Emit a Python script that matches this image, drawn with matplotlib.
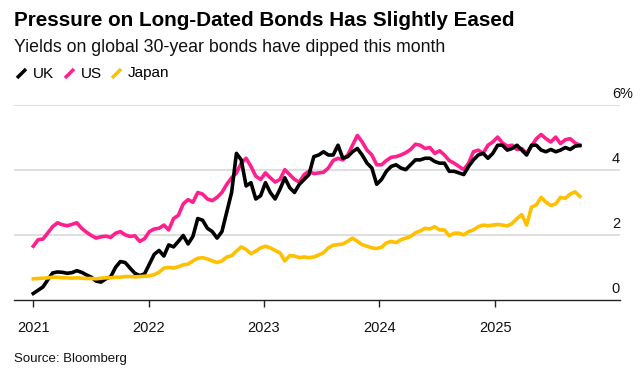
import matplotlib
matplotlib.use('Agg')
import matplotlib.pyplot as plt
from matplotlib.lines import Line2D
import pandas as pd

plt.rcParams['font.family'] = ['Liberation Sans', 'DejaVu Sans']

# === data: 30-year yields (%), roughly every half month, Jan 2021 -> late Sep 2025 ===
uk = [0.2, 0.3, 0.4, 0.62, 0.83, 0.86, 0.85, 0.82, 0.84, 0.9, 0.85, 0.77,
      0.7, 0.58, 0.55, 0.65, 0.71, 1.0, 1.18, 1.15, 0.98, 0.82, 0.75, 0.8,
      1.1, 1.4, 1.52, 1.35, 1.69, 1.63, 1.8, 1.98, 1.72, 1.95, 2.5, 2.45,
      2.2, 2.1, 1.9, 2.1, 2.7, 3.3, 4.5, 4.3, 3.5, 3.6, 3.1, 3.2,
      3.6, 3.3, 3.1, 3.4, 3.75, 3.45, 3.3, 3.55, 3.7, 3.85, 4.4, 4.45,
      4.55, 4.45, 4.45, 4.75, 4.35, 4.4, 4.55, 4.65, 4.45, 4.2, 4.05, 3.55,
      3.7, 3.95, 4.1, 4.15, 4.05, 4.0, 4.15, 4.3, 4.3, 4.35, 4.35, 4.25,
      4.2, 4.2, 3.95, 3.95, 3.9, 3.85, 4.1, 4.3, 4.45, 4.5, 4.35, 4.5,
      4.75, 4.75, 4.6, 4.65, 4.75, 4.6, 4.45, 4.75, 4.75, 4.6, 4.55, 4.62,
      4.55, 4.6, 4.68, 4.62, 4.72, 4.74]

us = [1.65, 1.85, 1.87, 2.06, 2.25, 2.37, 2.31, 2.28, 2.32, 2.37, 2.2, 2.08,
      1.98, 1.9, 1.94, 1.96, 1.92, 2.05, 2.1, 2.0, 1.95, 1.97, 1.8, 1.88,
      2.1, 2.18, 2.2, 2.3, 2.15, 2.5, 2.6, 2.95, 3.08, 3.0, 3.3, 3.25,
      3.1, 3.05, 3.15, 3.3, 3.55, 3.75, 3.9, 4.2, 4.35, 4.1, 3.8, 3.7,
      3.9, 3.75, 3.62, 3.7, 4.0, 3.85, 3.7, 3.62, 3.85, 3.95, 3.88, 3.9,
      3.92, 4.05, 4.28, 4.35, 4.3, 4.45, 4.75, 5.05, 4.85, 4.6, 4.45, 4.15,
      4.15, 4.28, 4.38, 4.4, 4.45, 4.52, 4.62, 4.78, 4.75, 4.65, 4.68, 4.5,
      4.58, 4.45, 4.28, 4.2, 4.1, 4.0, 4.2, 4.55, 4.6, 4.5, 4.75, 4.85,
      5.0, 4.82, 4.72, 4.75, 4.62, 4.65, 4.5, 4.72, 4.95, 5.08, 4.95, 4.85,
      5.0, 4.8, 4.92, 4.95, 4.82, 4.75]

japan = [0.65, 0.66, 0.67, 0.68, 0.7, 0.7, 0.68, 0.68, 0.67, 0.68, 0.67, 0.66,
         0.66, 0.65, 0.67, 0.68, 0.68, 0.7, 0.7, 0.72, 0.72, 0.71, 0.72, 0.73,
         0.74, 0.78, 0.85, 0.98, 1.0, 0.98, 1.02, 1.08, 1.1, 1.2, 1.28, 1.3,
         1.26, 1.2, 1.15, 1.2, 1.32, 1.36, 1.5, 1.63, 1.55, 1.42, 1.5, 1.6,
         1.65, 1.6, 1.52, 1.45, 1.2, 1.36, 1.35, 1.3, 1.32, 1.3, 1.32, 1.38,
         1.45, 1.6, 1.68, 1.7, 1.72, 1.8, 1.9, 1.8, 1.7, 1.65, 1.6, 1.58,
         1.62, 1.75, 1.8, 1.76, 1.85, 1.9, 1.95, 2.06, 2.12, 2.2, 2.18, 2.25,
         2.15, 2.15, 1.97, 2.05, 2.05, 2.0, 2.1, 2.15, 2.25, 2.3, 2.28, 2.3,
         2.32, 2.3, 2.27, 2.35, 2.5, 2.62, 2.3, 2.85, 2.92, 3.15, 3.0, 2.9,
         2.95, 3.15, 3.12, 3.25, 3.32, 3.18]

dates = pd.date_range('2021-01-01', '2025-09-26', periods=len(uk))

series = [('UK', uk, '#000000'), ('US', us, '#ff1f8e'), ('Japan', japan, '#ffc000')]
year_ticks = [2021, 2022, 2023, 2024, 2025]
y_ticks = [0, 2, 4, 6]

# === figure ===
W, H = 642, 380
fig = plt.figure(figsize=(W / 100, H / 100), dpi=100)
ax = fig.add_axes([14 / W, 1 - 300 / H, (620 - 14) / W, (300 - 104.5) / H])

# US first so UK sits on top
for name, vals, col in [series[1], series[0], series[2]]:
    ax.plot(dates, vals, color=col, lw=2.6, solid_joinstyle='round', zorder=3)

ax.set_ylim(0, 6)
ax.set_xlim(pd.Timestamp('2020-11-01'), pd.Timestamp('2026-01-31'))

for v in y_ticks[1:]:
    ax.axhline(v, color='#dcdcdc', lw=1.3, zorder=1)
for s in ['top', 'right', 'left']:
    ax.spines[s].set_visible(False)
ax.spines['bottom'].set_color('#222222')
ax.spines['bottom'].set_linewidth(1.0)

ax.set_yticks([])
ax.set_xticks([pd.Timestamp(f'{y}-01-01') for y in year_ticks])
ax.set_xticklabels([str(y) for y in year_ticks], fontsize=10.5, color='#111111')
ax.tick_params(axis='x', length=5, width=1, color='#222222', pad=10)

# right-side y labels sitting above the gridlines
for v in y_ticks:
    ax.text(1.0, v + 0.12, str(v), transform=ax.get_yaxis_transform(),
            ha='right', va='bottom', fontsize=10.5, color='#111111')
ax.text(1.0, 6 + 0.12, '%', transform=ax.get_yaxis_transform(),
        ha='left', va='bottom', fontsize=10.5, color='#111111')

# === titles ===
fig.text(14 / W, 1 - 21 / H, 'Pressure on Long-Dated Bonds Has Slightly Eased',
         fontsize=14.9, fontweight='bold', va='center', ha='left')
fig.text(14 / W, 1 - 48 / H, 'Yields on global 30-year bonds have dipped this month',
         fontsize=12.8, va='center', ha='left', color='#111111')

# legend: slanted dashes + names
leg_x = [17, 65, 112]
for (name, vals, col), x0 in zip(series, leg_x):
    fig.add_artist(Line2D([x0 / W, (x0 + 9) / W], [1 - 78 / H, 1 - 69 / H],
                          color=col, lw=2.5, solid_capstyle='butt'))
    fig.text((x0 + 16) / W, 1 - 73.5 / H, name, fontsize=11, va='center', ha='left')

fig.text(14 / W, 1 - 359 / H, 'Source: Bloomberg', fontsize=9.5, va='center',
         ha='left', color='#111111')

fig.savefig('out.png', dpi=100)
